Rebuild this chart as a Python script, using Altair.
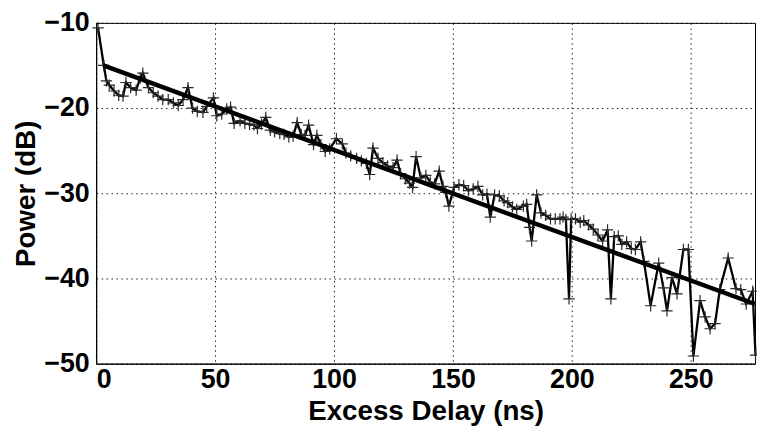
import altair as alt
import pandas as pd

# measured power delay profile (excess delay in ns, power in dB)
delay = [0.8, 3.2, 4.3, 5.5, 7.5, 9.5, 11.3, 12.5, 14.5, 16.8, 18.5, 19.6, 22.0, 24.0, 26.0,
         28.0, 30.3, 32.5, 34.5, 36.5, 38.6, 40.5, 42.5, 44.9, 46.5, 49.3, 50.7, 52.8, 54.9,
         56.5, 58.0, 60.5, 62.5, 64.5, 66.3, 67.8, 69.5, 71.3, 73.2, 75.0, 77.2, 79.0, 81.0,
         82.8, 84.5, 86.2, 87.8, 89.3, 91.4, 92.8, 94.5, 96.3, 98.2, 101.0, 103.5, 105.0,
         107.0, 109.5, 111.5, 113.6, 115.0, 116.4, 118.5, 120.5, 122.5, 124.8, 126.5, 128.0,
         130.0, 131.7, 133.0, 134.5, 136.5, 138.6, 140.5, 142.3, 144.2, 145.8, 147.0, 148.3,
         150.5, 152.5, 154.5, 156.5, 158.5, 160.5, 162.5, 164.3, 165.7, 167.5, 169.5, 171.5,
         173.0, 175.0, 176.8, 179.6, 181.0, 182.2, 183.1, 185.2, 187.0, 189.0, 191.0, 193.0,
         195.0, 196.3, 197.5, 198.8, 199.7, 201.5, 203.5, 205.0, 207.0, 209.0, 211.0, 212.9,
         215.0, 216.4, 217.8, 219.5, 221.0, 223.0, 225.0, 226.7, 228.9, 230.3, 233.1, 236.5,
         238.5, 240.0, 242.1, 244.2, 246.9, 249.0, 251.1, 253.9, 256.0, 258.1, 260.2, 262.2,
         265.7, 269.0, 271.0, 273.3, 276.0, 277.2]
power = [-10.6, -15.0, -16.8, -17.3, -18.0, -18.5, -18.6, -17.0, -17.6, -17.9, -16.5, -15.9,
         -17.6, -18.2, -18.6, -19.0, -19.0, -19.4, -19.7, -19.0, -17.6, -20.0, -20.4, -20.5,
         -19.8, -18.8, -20.9, -20.7, -20.1, -19.9, -21.8, -21.5, -21.8, -21.9, -22.0, -22.4,
         -21.9, -21.1, -22.6, -22.8, -23.0, -23.1, -23.4, -23.3, -21.7, -23.1, -23.2, -22.0,
         -24.3, -23.2, -24.3, -25.1, -24.8, -23.6, -24.2, -25.3, -25.6, -25.9, -26.2, -26.5,
         -27.8, -24.7, -25.9, -26.4, -26.8, -27.0, -26.1, -27.7, -28.3, -28.8, -29.3, -25.7,
         -28.2, -27.9, -28.7, -28.9, -27.4, -29.2, -29.9, -31.5, -29.3, -29.0, -29.1, -29.7,
         -29.5, -29.2, -30.2, -30.1, -32.8, -30.2, -30.3, -30.9, -31.1, -31.6, -31.9, -31.5,
         -31.3, -34.0, -35.6, -30.2, -32.3, -32.6, -33.0, -33.0, -33.0, -32.8, -33.1, -42.4,
         -33.0, -33.0, -33.4, -33.2, -33.7, -34.2, -34.9, -35.6, -34.3, -42.4, -35.1, -35.0,
         -36.0, -35.7, -36.5, -36.6, -35.7, -38.0, -43.2, -38.2, -41.1, -43.8, -39.9, -41.8,
         -36.6, -36.6, -49.1, -42.6, -44.5, -45.9, -45.3, -41.3, -37.6, -41.2, -41.3, -43.0,
         -41.5, -49.0]

# linear (dB) regression fit
fit_delay = [3.0, 277.0]
fit_power = [-15.0, -43.0]

x_ticks = [0, 50, 100, 150, 200, 250]
y_ticks = [-50, -40, -30, -20, -10]

meas = pd.DataFrame({"delay": delay, "power": power})
fit = pd.DataFrame({"delay": fit_delay, "power": fit_power})

FONT = "Liberation Sans"

xenc = alt.X("delay:Q",
             scale=alt.Scale(domain=[0, 277], nice=False, zero=False),
             axis=alt.Axis(values=x_ticks, title="Excess Delay (ns)", grid=True,
                           ticks=False, labelPadding=3, titleY=34))
yenc = alt.Y("power:Q",
             scale=alt.Scale(domain=[-50, -10], nice=False, zero=False),
             axis=alt.Axis(values=y_ticks, title="Power (dB)", grid=True,
                           ticks=False, labelPadding=7, titleX=-56))

cross = "M-1,0L1,0M0,-1L0,1"

line = alt.Chart(meas).mark_line(color="black", strokeWidth=2.3).encode(x=xenc, y=yenc)
pts = alt.Chart(meas).mark_point(shape=cross, size=130, color="#2a2a2a", strokeWidth=1.2,
                                 filled=False, opacity=1).encode(x=xenc, y=yenc)
fitline = alt.Chart(fit).mark_line(color="black", strokeWidth=4.5).encode(x=xenc, y=yenc)

chart = (
    alt.layer(line, pts, fitline)
    .properties(width=665, height=344,
                autosize=alt.AutoSizeParams(type="none"),
                padding={"left": 89, "top": 13, "right": 2, "bottom": 70})
    .configure_view(stroke="black", strokeWidth=1)
    .configure_axis(
        labelFont=FONT, labelFontSize=27, labelFontWeight="bold", labelColor="black",
        titleFont=FONT, titleFontSize=28, titleFontWeight="bold", titleColor="black",
        domainColor="black", domainWidth=1,
        gridColor="black", gridDash=[1.5, 3.5], gridWidth=1, gridOpacity=0.9,
    )
)

chart.save("out.html", embed_options={"renderer": "svg", "actions": False})
